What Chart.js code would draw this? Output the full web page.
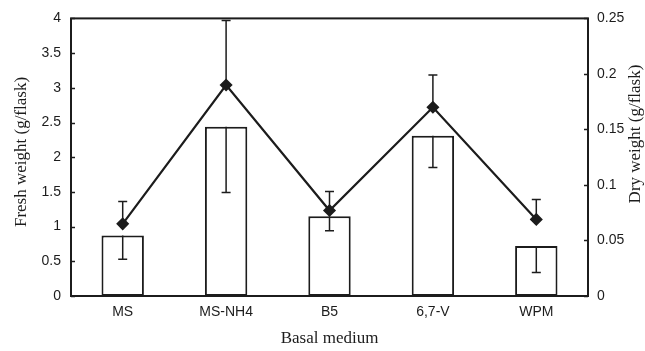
<!DOCTYPE html>
<html>
<head>
<meta charset="utf-8">
<script src="https://cdn.jsdelivr.net/npm/chart.js@4.4.1/dist/chart.umd.min.js"></script>
<style>
  html, body { margin: 0; padding: 0; background: #fff; }
  #wrap { width: 645px; height: 351px; }
</style>
</head>
<body>
<div id="wrap"><canvas id="chart" width="645" height="351"></canvas></div>
<script>
// data
const media = ["MS", "MS-NH4", "B5", "6,7-V", "WPM"];
const freshWeight = [0.87, 2.44, 1.15, 2.31, 0.72];
const freshErr = [0.34, 0.95, 0.21, 0.46, 0.38];   // only drawn downward
const dryWeight = [0.065, 0.19, 0.077, 0.17, 0.069];
const dryErr = [0.02, 0.058, 0.017, 0.029, 0.018];  // only drawn upward
const freshTicks = [0, 0.5, 1, 1.5, 2, 2.5, 3, 3.5, 4];
const dryTicks = [0, 0.05, 0.1, 0.15, 0.2, 0.25];

const ink = "#1c1c1c";
const sans = "'Liberation Sans', Arial, sans-serif";
const serif = "'Liberation Serif', 'Times New Roman', serif";

// plain number labels, no trailing zeros
const plain = (v) => Number(v.toFixed(2)).toString();

// box, inward ticks, error bars and axis titles
const figurePlugin = {
  id: "figure",
  afterDatasetsDraw(chart) {
    const ctx = chart.ctx;
    const a = chart.chartArea;
    const x = chart.scales.x, y = chart.scales.y, y1 = chart.scales.y1;
    ctx.save();
    ctx.strokeStyle = ink;
    ctx.lineWidth = 1.5;
    const cap = 4.5;
    media.forEach((m, i) => {
      const cx = x.getPixelForValue(i);
      // fresh weight: lower whisker
      const t = y.getPixelForValue(freshWeight[i]);
      const b = y.getPixelForValue(freshWeight[i] - freshErr[i]);
      ctx.beginPath();
      ctx.moveTo(cx, t); ctx.lineTo(cx, b);
      ctx.moveTo(cx - cap, b); ctx.lineTo(cx + cap, b);
      ctx.stroke();
      // dry weight: upper whisker
      const p = y1.getPixelForValue(dryWeight[i]);
      const u = y1.getPixelForValue(dryWeight[i] + dryErr[i]);
      ctx.beginPath();
      ctx.moveTo(cx, p); ctx.lineTo(cx, u);
      ctx.moveTo(cx - cap, u); ctx.lineTo(cx + cap, u);
      ctx.stroke();
    });
    // plot frame
    ctx.lineWidth = 2;
    ctx.strokeRect(a.left, a.top, a.right - a.left, a.bottom - a.top);
    // inward tick marks
    ctx.lineWidth = 1.5;
    ctx.beginPath();
    freshTicks.forEach(v => {
      const py = Math.round(y.getPixelForValue(v)) + 0.5;
      ctx.moveTo(a.left, py); ctx.lineTo(a.left + 4, py);
    });
    dryTicks.forEach(v => {
      const py = Math.round(y1.getPixelForValue(v)) + 0.5;
      ctx.moveTo(a.right, py); ctx.lineTo(a.right - 4, py);
    });
    ctx.stroke();
    // axis titles
    ctx.fillStyle = ink;
    ctx.font = "17px " + serif;
    ctx.textAlign = "center";
    ctx.textBaseline = "middle";
    ctx.fillText("Basal medium", (a.left + a.right) / 2, 339);
    ctx.save();
    ctx.translate(22, 152);
    ctx.rotate(-Math.PI / 2);
    ctx.fillText("Fresh weight (g/flask)", 0, 0);
    ctx.restore();
    ctx.save();
    ctx.translate(636, 134);
    ctx.rotate(-Math.PI / 2);
    ctx.fillText("Dry weight (g/flask)", 0, 0);
    ctx.restore();
    ctx.restore();
  }
};

new Chart(document.getElementById("chart"), {
  type: "bar",
  data: {
    labels: media,
    datasets: [
      {
        type: "line",
        label: "Dry weight",
        data: dryWeight,
        yAxisID: "y1",
        order: 0,
        borderColor: ink,
        borderWidth: 2.2,
        pointStyle: "rectRot",
        pointRadius: 5,
        pointBackgroundColor: ink,
        pointBorderColor: ink,
        tension: 0,
        fill: false,
      },
      {
        label: "Fresh weight",
        data: freshWeight,
        yAxisID: "y",
        order: 1,
        backgroundColor: "#fff",
        borderColor: ink,
        borderWidth: 2,
        borderSkipped: false,
        barPercentage: 0.41,
        categoryPercentage: 1.0,
      },
    ],
  },
  options: {
    responsive: false,
    animation: false,
    devicePixelRatio: 1,
    layout: { padding: { top: 17, left: 0, right: 0, bottom: 0 } },
    plugins: { legend: { display: false }, tooltip: { enabled: false } },
    scales: {
      x: {
        grid: { display: false, drawTicks: false },
        border: { display: false },
        ticks: { color: ink, font: { family: sans, size: 14 }, padding: 8, maxRotation: 0 },
        afterFit: (s) => { s.height = 55; },
      },
      y: {
        position: "left",
        min: 0,
        max: 4,
        grid: { display: false, drawTicks: false },
        border: { display: false },
        ticks: { stepSize: 0.5, color: ink, font: { family: sans, size: 14 }, padding: 10,
                 callback: plain },
        afterFit: (s) => { s.width = 71; },
      },
      y1: {
        position: "right",
        min: 0,
        max: 0.25,
        grid: { display: false, drawTicks: false },
        border: { display: false },
        ticks: { stepSize: 0.05, color: ink, font: { family: sans, size: 14 }, padding: 9,
                 callback: plain },
        afterFit: (s) => { s.width = 57; },
      },
    },
  },
  plugins: [figurePlugin],
});
</script>
</body>
</html>
